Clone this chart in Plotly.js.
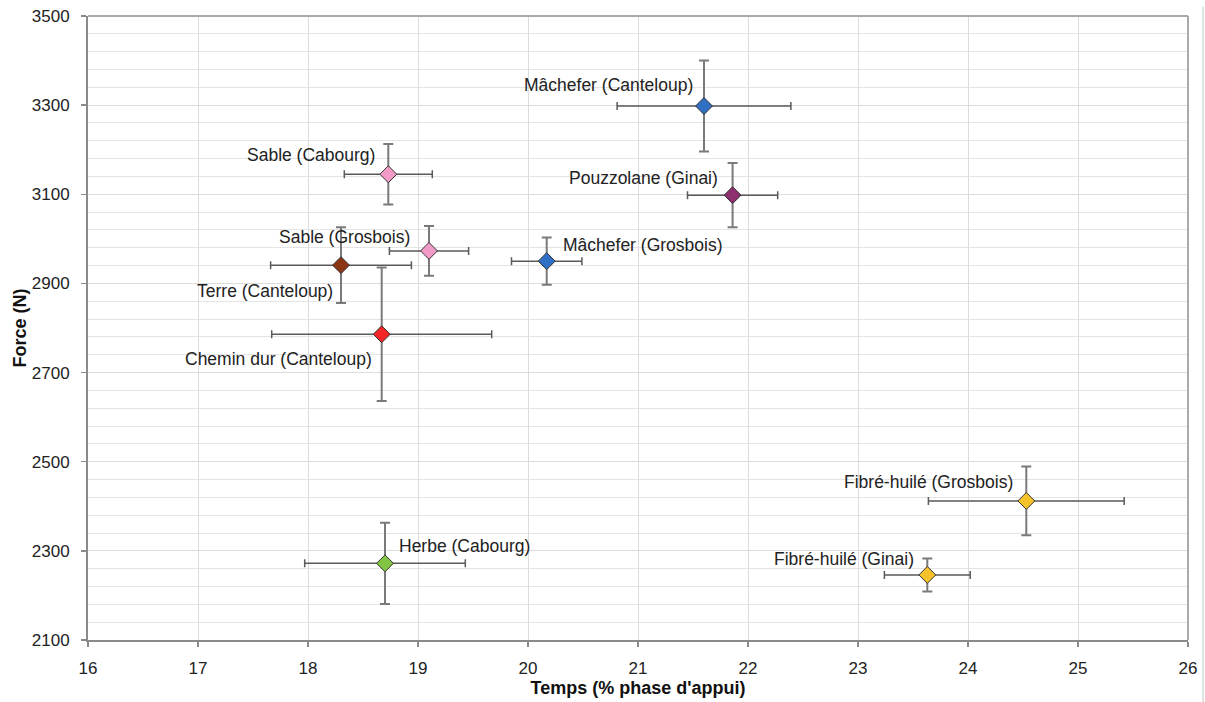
<!DOCTYPE html>
<html>
<head>
<meta charset="utf-8">
<script src="https://cdn.plot.ly/plotly-3.0.1.min.js"></script>
<style>html,body{margin:0;padding:0;background:#fff}#chart{width:1205px;height:702px}</style>
</head>
<body>
<div id="chart"></div>
<script>
const labels = ["Mâchefer (Canteloup)","Pouzzolane (Ginai)","Sable (Cabourg)","Sable (Grosbois)","Mâchefer (Grosbois)","Terre (Canteloup)","Chemin dur (Canteloup)","Herbe (Cabourg)","Fibré-huilé (Grosbois)","Fibré-huilé (Ginai)"];
const temps = [21.60, 21.86, 18.73, 19.10, 20.17, 18.30, 18.67, 18.70, 24.53, 23.63];
const tempsErr = [0.79, 0.41, 0.40, 0.36, 0.32, 0.64, 1.00, 0.73, 0.89, 0.39];
const force = [3298, 3098, 3145, 2973, 2950, 2941, 2786, 2272, 2412, 2246];
const forceErr = [102, 72, 68, 56, 53, 85, 150, 91, 77, 37];
const colors = ["#2f6fc4","#8e2f70","#f29ac8","#f29ac8","#2f6fc4","#8b3416","#f42626","#84c443","#f6c22a","#f6c22a"];
const xTicks = [16,17,18,19,20,21,22,23,24,25,26];
const yTicks = [2100,2300,2500,2700,2900,3100,3300,3500];

// label placement (pixels relative to marker)
const labelAnchor = ["right","right","right","right","left","right","right","left","right","right"];
const labelDx = [-9,-13,-11,-17,14,-6,-8,12,-11,-11];
const labelDy = [21,17,19,14,16,-26,-25,17,19,16];

const trace = {
  x: temps, y: force, type: 'scatter', mode: 'markers',
  marker: {symbol: 'diamond', size: 13, color: colors, line: {color: '#333', width: 1}},
  error_x: {type: 'data', array: tempsErr, visible: true, color: '#5a5a5a', thickness: 1.5, width: 4},
  error_y: {type: 'data', array: forceErr, visible: true, color: '#7a7a7a', thickness: 2, width: 5},
  hoverinfo: 'x+y', showlegend: false
};

const annotations = labels.map((t, i) => ({
  x: temps[i], y: force[i], xref: 'x', yref: 'y', text: t, showarrow: false,
  xanchor: labelAnchor[i], yanchor: 'middle', xshift: labelDx[i], yshift: labelDy[i],
  font: {family: 'Liberation Sans, Arial, sans-serif', size: 17.5, color: '#222'}
}));

const layout = {
  width: 1205, height: 702,
  margin: {l: 88, r: 17, t: 16, b: 62},
  paper_bgcolor: '#fff', plot_bgcolor: '#fff',
  font: {family: 'Liberation Sans, Arial, sans-serif', color: '#222'},
  xaxis: {
    range: [16, 26], tickvals: xTicks, ticktext: xTicks.map(String),
    showgrid: true, gridcolor: '#dcdcdc', gridwidth: 1,
    showline: true, linecolor: '#8a8a8a', linewidth: 2, mirror: false,
    ticks: 'outside', ticklen: 5, tickcolor: '#8a8a8a', tickwidth: 1.5,
    tickfont: {size: 17, color: '#222'}, zeroline: false, ticklabelstandoff: 7,
    title: {text: "Temps (% phase d'appui)", font: {size: 18, color: '#111', weight: 'bold'}, standoff: 4}
  },
  yaxis: {
    range: [2100, 3500], tickvals: yTicks, ticktext: yTicks.map(String),
    showgrid: true, gridcolor: '#dcdcdc', gridwidth: 1,
    minor: {dtick: 40, tick0: 2100, showgrid: true, gridcolor: '#e4e4e4', gridwidth: 1, ticks: ''},
    showline: true, linecolor: '#8a8a8a', linewidth: 2,
    ticks: 'outside', ticklen: 5, tickcolor: '#8a8a8a', tickwidth: 1.5,
    tickfont: {size: 17, color: '#222'}, zeroline: false, ticklabelstandoff: 8,
    title: {text: "Force (N)", font: {size: 18, color: '#111', weight: 'bold'}, standoff: 0}
  },
  shapes: [
    {type: 'line', xref: 'paper', yref: 'paper', x0: 0, x1: 1, y0: 1, y1: 1, line: {color: '#aaaaaa', width: 2}},
    {type: 'line', xref: 'paper', yref: 'paper', x0: 1, x1: 1, y0: 0, y1: 1, line: {color: '#aaaaaa', width: 2}},
    {type: 'line', xref: 'paper', yref: 'paper', x0: 1.0136, x1: 1.0136, y0: -0.1, y1: 1.015, line: {color: '#d8d8d8', width: 1.5}}
  ],
  annotations: annotations
};

Plotly.newPlot('chart', [trace], layout, {displayModeBar: false, staticPlot: true});
</script>
</body>
</html>
